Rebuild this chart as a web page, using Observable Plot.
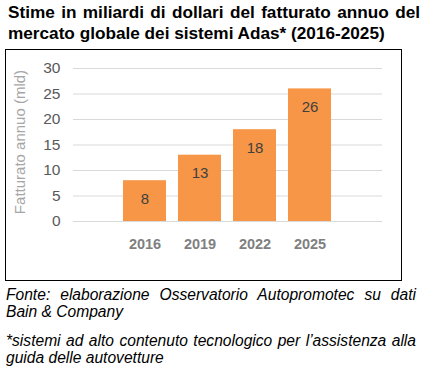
<!DOCTYPE html>
<html>
<head>
<meta charset="utf-8">
<script src="https://cdn.jsdelivr.net/npm/d3@7"></script>
<script src="https://cdn.jsdelivr.net/npm/@observablehq/plot@0.6"></script>
<style>
  body { margin: 0; background: #fff; font-family: "Liberation Sans", Arial, sans-serif; width: 424px; }
  #title { position: absolute; left: 8px; top: 2px; width: 412px; font-weight: bold; font-size: 17.2px; line-height: 21px; color: #000; text-align: justify; text-align-last: left; }
  #box { position: absolute; left: 5px; top: 49px; width: 395px; height: 230px; border: 1px solid #000; }
  #notes { position: absolute; left: 6px; top: 286px; width: 410px; font-style: italic; font-size: 15.6px; line-height: 17px; color: #000; text-align: justify; }
  #notes p { margin: 0 0 12px 0; }
  svg text { font-family: "Liberation Sans", Arial, sans-serif; }
</style>
</head>
<body>
<div id="title">Stime in miliardi di dollari del fatturato annuo del mercato globale dei sistemi Adas* (2016-2025)</div>
<div id="box"></div>
<div id="notes">
<p>Fonte: elaborazione Osservatorio Autopromotec su dati Bain &amp; Company</p>
<p>*sistemi ad alto contenuto tecnologico per l’assistenza alla guida delle autovetture</p>
</div>
<script>
const years = ["2016", "2019", "2022", "2025"];
const values = [8, 13, 18, 26];
const yTicks = [0, 5, 10, 15, 20, 25, 30];
const yLabel = "Fatturato annuo (mld)";

const data = years.map((y, i) => ({year: y, value: values[i]}));

const chart = Plot.plot({
  width: 395,
  height: 230,
  marginLeft: 67,
  marginRight: 19,
  marginTop: 18,
  marginBottom: 59,
  style: {fontSize: "15px", background: "transparent"},
  x: {domain: years, padding: 0.21, insetLeft: 37, insetRight: 37, label: null},
  y: {domain: [0, 30], label: null},
  marks: [
    Plot.ruleY(yTicks, {stroke: "#d9d9d9", strokeWidth: 1}),
    Plot.barY(data, {x: "year", y: "value", fill: "#F79646"}),
    Plot.text(data, {x: "year", y: "value", text: d => String(d.value), dy: 18, fill: "#404040", fontSize: 15}),
    Plot.axisY({ticks: yTicks, tickSize: 0, tickPadding: 13, fill: "#595959", fontSize: 15.5, label: null}),
    Plot.axisX({tickSize: 0, tickPadding: 17, fill: "#7f7f7f", fontSize: 14.5, fontWeight: "bold", label: null}),
    Plot.text([yLabel], {frameAnchor: "left", dx: -53, dy: -3, rotate: -90, textAnchor: "middle", fill: "#a6a6a6", fontSize: 15})
  ]
});
document.getElementById("box").appendChild(chart);
</script>
</body>
</html>
